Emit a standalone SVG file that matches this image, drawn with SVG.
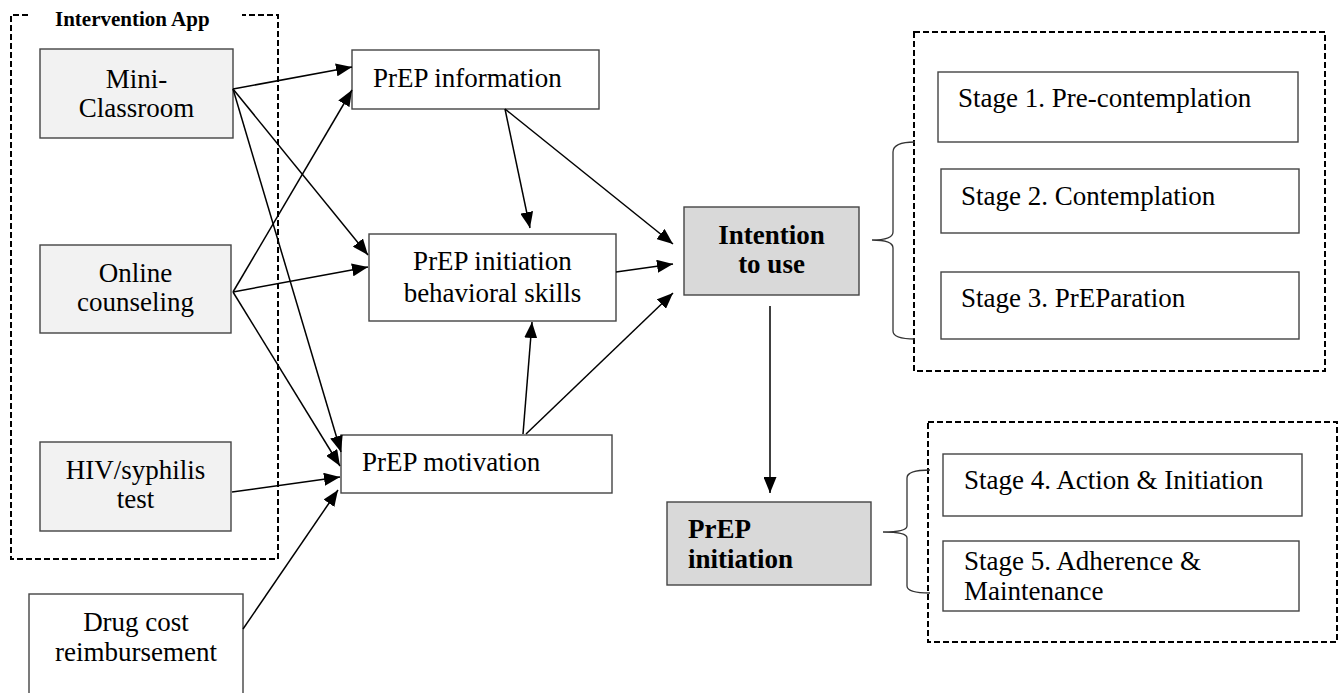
<svg xmlns="http://www.w3.org/2000/svg" width="1338" height="693" viewBox="0 0 1338 693">
<style>
.box{fill:#ffffff;stroke:#444;stroke-width:1.4}
.grey{fill:#f2f2f2;stroke:#444;stroke-width:1.4}
.dark{fill:#d9d9d9;stroke:#444;stroke-width:1.4}
.dash{fill:none;stroke:#000;stroke-width:2;stroke-dasharray:6,3}
.t{font-family:"Liberation Serif","Times New Roman",serif;font-size:27px;fill:#000}
.c{text-anchor:middle}
.b{font-weight:bold}
.conn line{stroke:#000;stroke-width:1.5;marker-end:url(#ah)}
.brace{fill:none;stroke:#333;stroke-width:1.3}
</style>
<defs>
<marker id="ah" markerUnits="userSpaceOnUse" markerWidth="16" markerHeight="13" refX="16" refY="6.5" orient="auto">
<path d="M0,0 L16,6.5 L0,13 z" fill="#000"/>
</marker>
</defs>
<rect width="1338" height="693" fill="#fff"/>

<g id="intervention-app">
<path class="dash" d="M28,15 L11,15 L11,559 L278,559 L278,15 L242,15"/>
<text class="t b" x="55" y="26" style="font-size:21px">Intervention App</text>
</g>

<g id="mini-classroom">
<rect class="grey" x="40" y="49" width="193" height="89"/>
<text class="t c" x="136.5" y="88">Mini-</text>
<text class="t c" x="136.5" y="117">Classroom</text>
</g>

<g id="online-counseling">
<rect class="grey" x="40" y="245" width="191" height="88"/>
<text class="t c" x="135.5" y="282">Online</text>
<text class="t c" x="135.5" y="311">counseling</text>
</g>

<g id="hiv-test">
<rect class="grey" x="40" y="442" width="191" height="89"/>
<text class="t c" x="135.5" y="479">HIV/syphilis</text>
<text class="t c" x="135.5" y="508">test</text>
</g>

<g id="drug-cost">
<rect class="box" x="29" y="594" width="214" height="110"/>
<text class="t c" x="136" y="631">Drug cost</text>
<text class="t c" x="136" y="661">reimbursement</text>
</g>

<g id="prep-information">
<rect class="box" x="352" y="50" width="247" height="59"/>
<text class="t" x="373" y="87">PrEP information</text>
</g>

<g id="prep-skills">
<rect class="box" x="369" y="234" width="247" height="87"/>
<text class="t c" x="492.5" y="270">PrEP initiation</text>
<text class="t c" x="492.5" y="302">behavioral skills</text>
</g>

<g id="prep-motivation">
<rect class="box" x="341" y="435" width="271" height="58"/>
<text class="t" x="362" y="471">PrEP motivation</text>
</g>

<g id="intention">
<rect class="dark" x="684" y="207" width="175" height="88"/>
<text class="t c b" x="771.5" y="244">Intention</text>
<text class="t c b" x="771.5" y="273">to use</text>
</g>

<g id="prep-initiation">
<rect class="dark" x="667" y="502" width="204" height="83"/>
<text class="t b" x="688" y="538">PrEP</text>
<text class="t b" x="688" y="568">initiation</text>
</g>

<g id="stages-1-3">
<rect class="dash" x="914" y="32" width="411" height="339"/>
<rect class="box" x="938" y="72" width="360" height="70"/>
<text class="t" x="958" y="107">Stage 1. Pre-contemplation</text>
<rect class="box" x="941" y="169" width="358" height="64"/>
<text class="t" x="961" y="205">Stage 2. Contemplation</text>
<rect class="box" x="941" y="272" width="358" height="67"/>
<text class="t" x="961" y="307">Stage 3. PrEParation</text>
<path class="brace" d="M915,142 Q893,142 893,152 L893,232 Q893,240 872,240 Q893,240 893,248 L893,331 Q893,339 915,339"/>
</g>

<g id="stages-4-5">
<rect class="dash" x="928" y="422" width="409" height="220"/>
<rect class="box" x="943" y="454" width="359" height="62"/>
<text class="t" x="964" y="489">Stage 4. Action &amp; Initiation</text>
<rect class="box" x="943" y="541" width="356" height="70"/>
<text class="t" x="964" y="570">Stage 5. Adherence &amp;</text>
<text class="t" x="964" y="600">Maintenance</text>
<path class="brace" d="M930,470 Q907,470 907,478 L907,526 Q907,532 883,532 Q907,532 907,538 L907,586 Q907,593 930,593"/>
</g>

<g id="connectors" class="conn">
<line x1="233" y1="89" x2="352" y2="67"/>
<line x1="233" y1="89" x2="368" y2="255"/>
<line x1="233" y1="89" x2="341" y2="452"/>
<line x1="233" y1="292" x2="352" y2="90"/>
<line x1="233" y1="292" x2="368" y2="267"/>
<line x1="233" y1="292" x2="340" y2="466"/>
<line x1="232" y1="492" x2="340" y2="477"/>
<line x1="243" y1="629" x2="338" y2="490"/>
<line x1="505" y1="109" x2="530" y2="228"/>
<line x1="505" y1="109" x2="673" y2="244"/>
<line x1="616" y1="272" x2="673" y2="264"/>
<line x1="523" y1="434" x2="532" y2="322"/>
<line x1="526" y1="434" x2="673" y2="293"/>
<line x1="770" y1="306" x2="770" y2="493"/>
</g>
</svg>
